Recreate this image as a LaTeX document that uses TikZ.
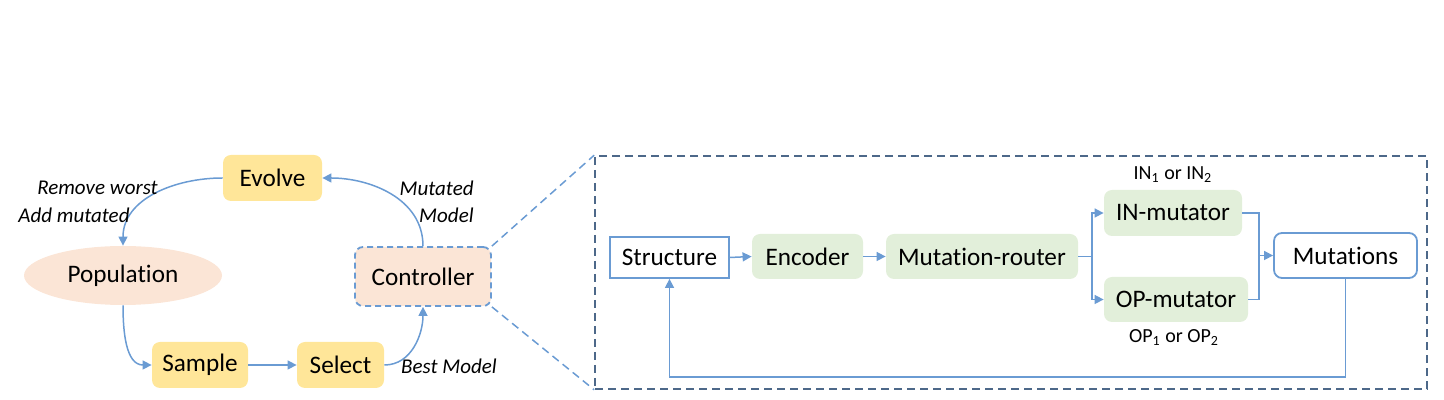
\documentclass[tikz,border=0pt]{standalone}
\usepackage{fontspec}
\setmainfont{Carlito}[Ligatures=NoCommon]
\usetikzlibrary{arrows.meta,shapes.geometric}
\definecolor{byellow}{HTML}{FFE699}
\definecolor{bpeach}{HTML}{FBE5D6}
\definecolor{bgreen}{HTML}{E2EFDA}
\definecolor{ablue}{HTML}{6A9BD3}
\definecolor{pnl}{HTML}{4D6889}
\begin{document}
\begin{tikzpicture}[x=0.5pt,y=0.5pt,
  base/.style={inner sep=0pt, font=\fontsize{12.6}{14}\selectfont},
  ybox/.style={base, fill=byellow, rounded corners=4pt},
  gbox/.style={base, fill=bgreen, rounded corners=4pt},
  wbox/.style={base, fill=white, draw=ablue, line width=0.9pt},
  lbl/.style={inner sep=0pt, font=\fontsize{10.5}{12}\selectfont\itshape},
  sub/.style={inner sep=0pt, font=\fontsize{10}{12}\selectfont},
  arr/.style={draw=ablue, line width=0.75pt, -{Triangle[length=4.5pt,width=4.5pt]}},
  ln/.style={draw=ablue, line width=0.75pt}]
\useasboundingbox (0,0) rectangle (1444,400);

% left cycle
\node[ybox, minimum width=49.5pt, minimum height=23pt] (evolve) at (272.5,222) {Evolve};
\node[base, ellipse, fill=bpeach, minimum width=99pt, minimum height=29.5pt] (pop) at (123,124.5) {Population};
\node[base, fill=bpeach, draw=ablue, line width=0.9pt, dash pattern=on 3pt off 2pt, rounded corners=4pt, minimum width=68pt, minimum height=29.5pt] (ctrl) at (423,123.5) {Controller};
\node[ybox, minimum width=48pt, minimum height=23pt] (sample) at (200,35) {Sample};
\node[ybox, minimum width=43.5pt, minimum height=23pt] (select) at (340.5,35) {Select};

\draw[arr] (evolve.west) to[out=180,in=90] (pop.north);
\draw[arr] (pop.south) to[out=270,in=180] (sample.west);
\draw[arr] (sample.east) -- (select.west);
\draw[arr] (select.east) to[out=0,in=270] (ctrl.south);
\draw[arr] (ctrl.north) to[out=90,in=0] (evolve.east);

\node[lbl] (lrw) at (97.5,212) {Remove worst};
\node[lbl] (lam) at (74,185) {Add mutated};
\node[lbl, anchor=east] (lmu) at (474,212) {Mutated};
\node[lbl, anchor=east] (lmo) at (474,185) {Model};
\node[lbl] (lbm) at (449,34) {Best Model};

% right panel
\node[draw=pnl, line width=0.8pt, dash pattern=on 4pt off 2.5pt, minimum width=416pt, minimum height=116.5pt, inner sep=0pt] (panel) at (1011,127.5) {};
\draw[ablue, line width=0.75pt, dash pattern=on 4pt off 2.5pt] (ctrl.north east) -- (panel.north west);
\draw[ablue, line width=0.75pt, dash pattern=on 4pt off 2.5pt] (ctrl.south east) -- (panel.south west);

\node[wbox, minimum width=59.5pt, minimum height=20.5pt] (struct) at (669.5,142.5) {Structure};
\node[gbox, minimum width=55.5pt, minimum height=22.5pt] (enc) at (807.5,143.5) {Encoder};
\node[gbox, minimum width=96pt, minimum height=22.5pt] (router) at (982,143.5) {Mutation-router};
\node[gbox, minimum width=69pt, minimum height=23pt] (inm) at (1173,187) {IN-mutator};
\node[gbox, minimum width=72pt, minimum height=22.5pt] (opm) at (1176,100.5) {OP-mutator};
\node[wbox, rounded corners=4pt, minimum width=71.5pt, minimum height=22.5pt] (mut) at (1345.5,144.5) {Mutations};

\node[sub] (inl) at (1173,225) {IN\textsubscript{1} or IN\textsubscript{2}};
\node[sub] (opl) at (1174,62) {OP\textsubscript{1} or OP\textsubscript{2}};

\coordinate (br) at (1092,143.5);
\coordinate (mg) at (1259,144.5);
\coordinate (fbline) at (0,23);

\draw[arr] (struct.east) -- (enc.west);
\draw[arr] (enc.east) -- (router.west);
\draw[ln] (router.east) -- (br);
\draw[arr] (br) |- (inm.west);
\draw[arr] (br) |- (opm.west);
\draw[ln] (inm.east) -| (mg);
\draw[ln] (opm.east) -| (mg);
\draw[arr] (mg) -- (mut.west);
\draw[arr] (mut.south) -- (mut.south |- fbline) -| (struct.south);
\end{tikzpicture}
\end{document}
